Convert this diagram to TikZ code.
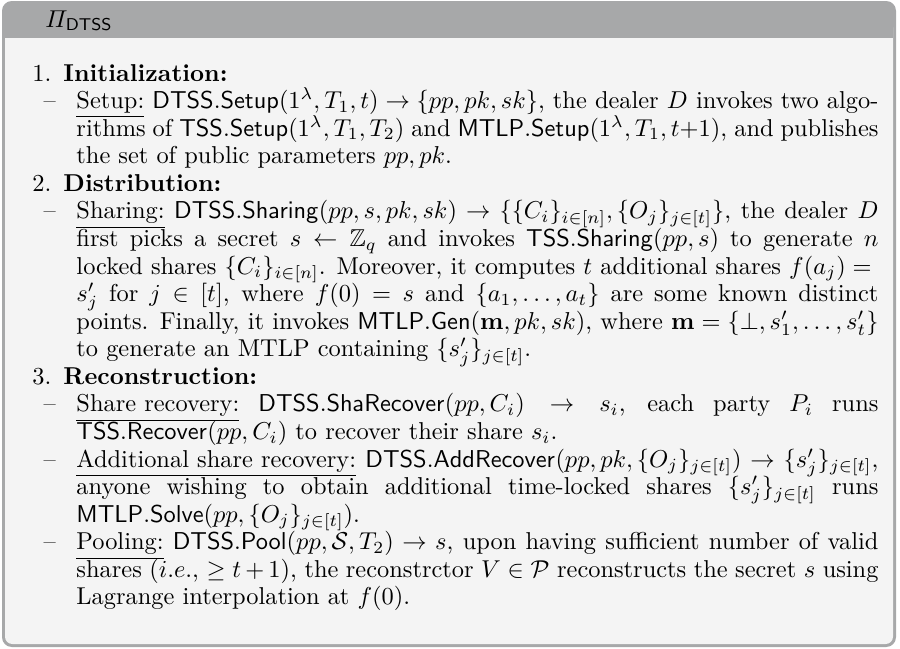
\documentclass[tikz,border=0pt]{standalone}
\usepackage{amsmath,amssymb}
\definecolor{framegray}{HTML}{A7A8A9}
\definecolor{bodygray}{HTML}{F4F4F4}
\newcommand{\algname}[1]{\mathsf{#1}}
\newenvironment{phaselist}{\begin{list}{}{%
  \setlength\leftmargin{12.7pt}\setlength\labelwidth{0pt}\setlength\labelsep{12.7pt}%
  \setlength\topsep{0pt}\setlength\partopsep{0pt}\setlength\itemsep{0pt}%
  \setlength\parsep{0pt}\setlength\itemindent{0pt}\setlength\rightmargin{0pt}%
  \renewcommand\makelabel[1]{\rlap{##1}}}}{\end{list}}
\newenvironment{dashlist}{\begin{list}{}{%
  \setlength\leftmargin{5.33pt}\setlength\labelwidth{0pt}\setlength\labelsep{13.5pt}%
  \setlength\topsep{0pt}\setlength\partopsep{0pt}\setlength\itemsep{0pt}%
  \setlength\parsep{0pt}\setlength\itemindent{0pt}\setlength\rightmargin{0pt}%
  \renewcommand\makelabel[1]{\rlap{##1}}}}{\end{list}}
\begin{document}
\begin{tikzpicture}[x=0.4098pt,y=-0.4098pt]
\useasboundingbox (0,0) rectangle (900,649);
% frame, body and title bar
\fill[framegray, rounded corners=4pt] (2,1) rectangle (896,647);
\fill[bodygray, rounded corners=3pt] (5,20) rectangle (893,644);
\fill[framegray] (5,12) rectangle (893,38);
\node[anchor=base west, inner sep=0pt] (title) at (45,27) {$\varPi_{\algname{DTSS}}$};
% protocol description
\node[anchor=base west, inner sep=0pt] (body) at (32,81) {%
\begin{minipage}[t]{346.7pt}
\fontsize{10pt}{11.3pt}\selectfont
\lineskiplimit=-100pt
\tolerance=9999
\begin{phaselist}
\item[1.] \textbf{Initialization:}
 \begin{dashlist}
 \item[\textendash] \underline{Setup:} $\algname{DTSS.Setup}(1^\lambda, T_1, t) \rightarrow \{pp, pk, sk\}$, the dealer $D$ invokes two algo-\linebreak
 rithms of $\algname{TSS.Setup}(1^\lambda,T_1,T_2)$ and $\algname{MTLP.Setup}(1^\lambda,T_1,t{+}1)$, and publishes\linebreak
 the set of public parameters $pp, pk$.
 \end{dashlist}
\item[2.] \textbf{Distribution:}
 \begin{dashlist}
 \item[\textendash] \underline{Sharing:} $\algname{DTSS.Sharing}(pp,s,pk,sk) \rightarrow \{\{C_i\}_{i\in[n]}, \{O_j\}_{j\in[t]}\}$, the dealer $D$\linebreak
 first picks a secret $s \leftarrow \mathbb{Z}_q$ and invokes $\algname{TSS.Sharing}(pp,s)$ to generate $n$\linebreak
 locked shares $\{C_i\}_{i\in[n]}$. Moreover, it computes $t$ additional shares $f(a_j) ={}$\linebreak
 $s'_j$ for $j \in [t]$, where $f(0) = s$ and $\{a_1,\ldots,a_t\}$ are some known distinct\linebreak
 points. Finally, it invokes $\algname{MTLP.Gen}(\mathbf{m},pk,sk)$, where $\mathbf{m} = \{\bot, s'_1,\ldots,s'_t\}$\linebreak
 to generate an MTLP containing $\{s'_j\}_{j\in[t]}$.
 \end{dashlist}
\item[3.] \textbf{Reconstruction:}
 \begin{dashlist}
 \item[\textendash] \underline{Share recovery:} $\algname{DTSS.ShaRecover}(pp,C_i) \rightarrow s_i$, each party $P_i$ runs\linebreak
 $\algname{TSS.Recover}(pp,C_i)$ to recover their share $s_i$.
 \item[\textendash] \underline{Additional share recovery:} $\algname{DTSS.AddRecover}(pp,pk,\{O_j\}_{j\in[t]}) \rightarrow \{s'_j\}_{j\in[t]}$,\linebreak
 anyone wishing to obtain additional time-locked shares $\{s'_j\}_{j\in[t]}$ runs\linebreak
 $\algname{MTLP.Solve}(pp,\{O_j\}_{j\in[t]})$.
 \item[\textendash] \underline{Pooling:} $\algname{DTSS.Pool}(pp,\mathcal{S},T_2) \rightarrow s$, upon having sufficient number of valid\linebreak
 shares ($i.e.$, $\geq t+1$), the reconstrctor $V \in \mathcal{P}$ reconstructs the secret $s$ using\linebreak
 Lagrange interpolation at $f(0)$.
 \end{dashlist}
\end{phaselist}
\end{minipage}};
\end{tikzpicture}
\end{document}
